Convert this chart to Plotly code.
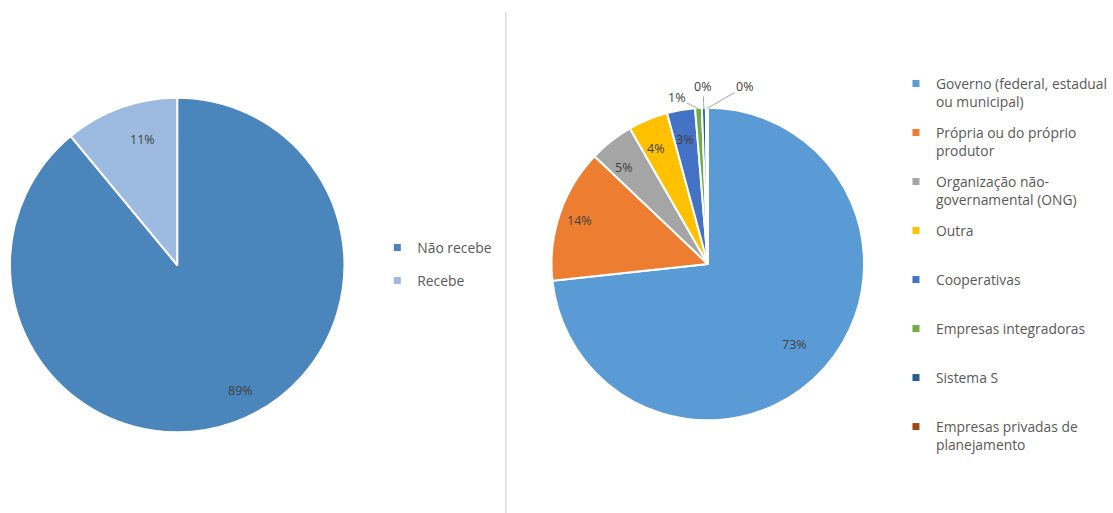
import math
import plotly.graph_objects as go

left_labels = ["Não recebe", "Recebe"]
left_values = [89, 11]
left_colors = ["#4A85BB", "#9DBBE0"]

right_labels = [
    "Governo (federal, estadual<br>ou municipal)",
    "Própria ou do próprio<br>produtor",
    "Organização não-<br>governamental (ONG)",
    "Outra<br> ",
    "Cooperativas<br> ",
    "Empresas integradoras<br> ",
    "Sistema S<br> ",
    "Empresas privadas de<br>planejamento",
]
right_values = [73.3, 13.8, 4.6, 4.1, 2.9, 0.7, 0.4, 0.2]
right_colors = ["#5B9BD5", "#ED7D31", "#A5A5A5", "#FFC000", "#4472C4", "#70AD47", "#255E91", "#9E480E"]
right_outside = [False] * 5 + [True] * 3
# offsets (px) of outside labels relative to slice edge
right_out_offsets = [None] * 5 + [(-22, -11), (-1, -22), (38, -22)]

W, H = 1113, 513
FONT = "Open Sans"
LEG_SIZE = 13.85

# pie geometry in pixels (margins are 0, so domain maps directly)
L_CX, L_CY, L_R = 178, 265, 168
R_CX, R_CY, R_R = 711, 264, 157


def dom(cx, cy, r):
    return dict(x=[(cx - r) / W, (cx + r) / W], y=[1 - (cy + r) / H, 1 - (cy - r) / H])


fig = go.Figure()
fig.add_trace(go.Pie(
    labels=left_labels, values=left_values, sort=False, direction="clockwise", rotation=0,
    marker=dict(colors=left_colors, line=dict(color="white", width=2)),
    textinfo="none", domain=dom(L_CX, L_CY, L_R), showlegend=False, hoverinfo="label+percent",
))
fig.add_trace(go.Pie(
    labels=right_labels, values=right_values, sort=False, direction="clockwise", rotation=0,
    marker=dict(colors=right_colors, line=dict(color="white", width=2)),
    textinfo="none", domain=dom(R_CX, R_CY, R_R), showlegend=False, hoverinfo="label+percent",
))

# legend entries (one per category, coloured like its slice)
for i, (lab, col) in enumerate(zip(left_labels, left_colors)):
    fig.add_trace(go.Scatter(x=[None], y=[None], mode="markers", name=lab,
                             marker=dict(symbol="square", size=7, color=col),
                             legend="legend", legendgroup=f"l{i}", showlegend=True, hoverinfo="skip"))
for i, (lab, col) in enumerate(zip(right_labels, right_colors)):
    fig.add_trace(go.Scatter(x=[None], y=[None], mode="markers", name=lab,
                             marker=dict(symbol="square", size=7, color=col),
                             legend="legend2", legendgroup=f"r{i}", showlegend=True, hoverinfo="skip"))


def slice_labels(values, cx, cy, r, frac, outside=None, offsets=None):
    total = sum(values)
    cum = 0.0
    anns = []
    for i, v in enumerate(values):
        mid = (cum + v / 2) / total
        cum += v
        th = 2 * math.pi * mid
        txt = f"{round(v / total * 100)}%"
        if outside and outside[i]:
            ex = cx + r * 0.99 * math.sin(th)
            ey = cy - r * 0.99 * math.cos(th)
            ax, ay = offsets[i]
            anns.append(dict(x=ex / W, y=1 - ey / H, xref="paper", yref="paper", text=txt,
                             showarrow=True, arrowhead=0, arrowwidth=1, arrowcolor="#A6A6A6",
                             ax=ax, ay=ay, standoff=0, startstandoff=0,
                             font=dict(family=FONT, size=12.5, color="#404040")))
        else:
            px = cx + r * frac * math.sin(th)
            py = cy - r * frac * math.cos(th)
            anns.append(dict(x=px / W, y=1 - py / H, xref="paper", yref="paper", text=txt,
                             showarrow=False, font=dict(family=FONT, size=12.5, color="#404040")))
    return anns


annotations = slice_labels(left_values, L_CX, L_CY, L_R, 0.86)
annotations += slice_labels(right_values, R_CX, R_CY, R_R, 0.87, right_outside, right_out_offsets)

fig.add_shape(type="line", xref="paper", yref="paper", x0=508 / W, x1=508 / W, y0=0, y1=1 - 12 / H,
              line=dict(color="#D9D9D9", width=1.5))

fig.update_layout(
    width=W, height=H, margin=dict(l=0, r=0, t=0, b=0),
    paper_bgcolor="white", plot_bgcolor="rgba(0,0,0,0)",
    xaxis=dict(visible=False), yaxis=dict(visible=False),
    font=dict(family=FONT, size=12, color="#595959"),
    annotations=annotations,
    legend=dict(x=379 / W, y=1 - 232 / H, xanchor="left", yanchor="top",
                font=dict(family=FONT, size=LEG_SIZE, color="#595959"),
                itemwidth=30, traceorder="grouped", tracegroupgap=12, bgcolor="rgba(0,0,0,0)"),
    legend2=dict(x=900 / W, y=1 - 68 / H, xanchor="left", yanchor="top",
                 font=dict(family=FONT, size=LEG_SIZE, color="#595959"),
                 valign="top", itemwidth=30, traceorder="grouped", tracegroupgap=10,
                 bgcolor="rgba(0,0,0,0)"),
)

fig.write_html("out.html", config={"displayModeBar": False},
               post_script="document.body.style.margin='0';")
